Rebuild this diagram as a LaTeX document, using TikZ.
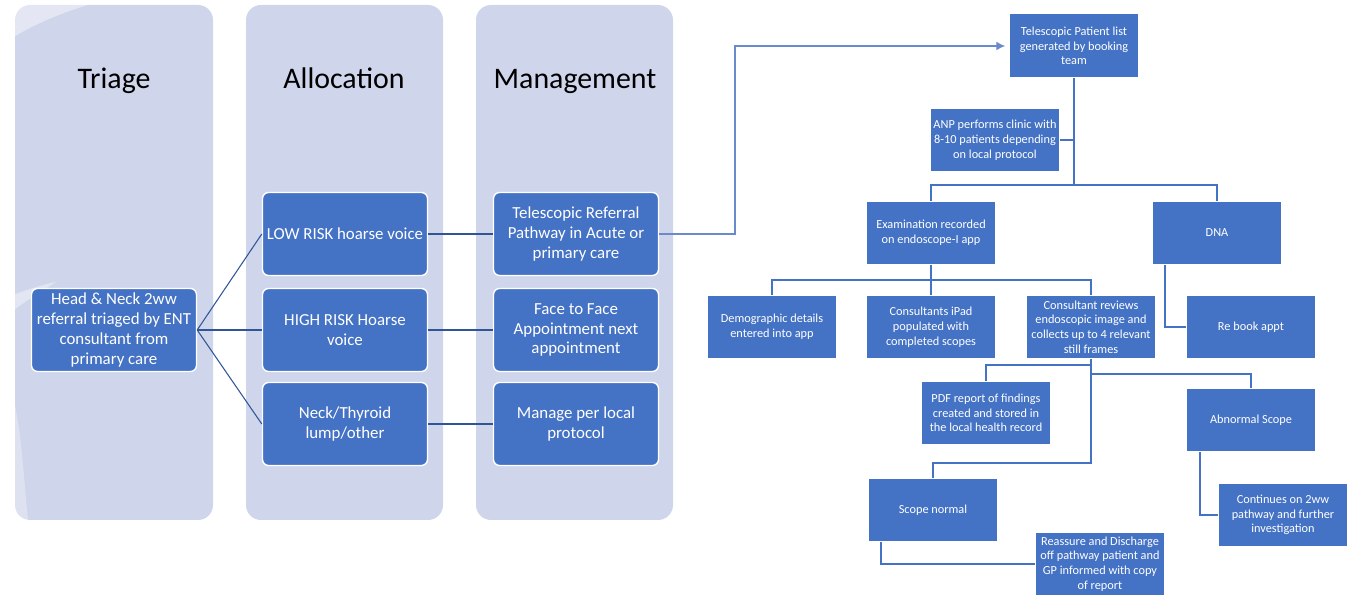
\documentclass[tikz,border=0pt]{standalone}
\usepackage{fontspec}
\setmainfont{Carlito}
\usetikzlibrary{calc,arrows.meta}
\definecolor{lane}{HTML}{CFD5EA}
\definecolor{boxblue}{HTML}{4472C4}
\definecolor{navy}{HTML}{2F5597}
\definecolor{lineblue}{HTML}{4472C4}
\definecolor{arrowblue}{HTML}{6A8BCB}
\begin{document}
\begin{tikzpicture}[x=0.02cm,y=-0.02cm,
  lanebox/.style={fill=lane,draw=none,rounded corners=0.3cm},
  lanetitle/.style={font=\fontsize{17}{20}\selectfont,text=black,anchor=base},
  lbox/.style={fill=boxblue,draw=white,line width=0.8pt,rounded corners=0.12cm,
    minimum width=3.3cm,minimum height=1.66cm,align=center,text=white,inner sep=1pt,
    font=\fontsize{9.6}{11.2}\selectfont},
  rbox/.style={fill=boxblue,draw=none,minimum width=2.58cm,minimum height=1.26cm,
    align=center,text=white,inner sep=1pt,font=\fontsize{7}{8.4}\selectfont},
  lconn/.style={draw=navy,line width=0.6pt},
  rconn/.style={draw=lineblue,line width=1.1pt},
  arr/.style={draw=arrowblue,line width=0.7pt,-{Latex[length=5pt,width=5pt]}}]
\useasboundingbox (0,0) rectangle (1357,597);
% lanes
\path[lanebox] (15,5) rectangle (213,520);
\path[lanebox] (246,5) rectangle (443,520);
\path[lanebox] (476,5) rectangle (673,520);
% faint watermark swoosh
\fill[white,opacity=0.45] (0,0) -- (105,0) .. controls (60,12) and (25,28) .. (0,46) -- cycle;
\fill[white,opacity=0.4] (0,300) .. controls (20,292) and (40,285) .. (56,282) .. controls (40,292) and (20,305) .. (0,320) -- cycle;
\fill[white,opacity=0.3] (15,405) .. controls (22,440) and (24,480) .. (28,520) -- (15,520) -- cycle;
\node[lanetitle] (t1) at (114,89) {Triage};
\node[lanetitle] (t2) at (344,89) {Allocation};
\node[lanetitle] (t3) at (575,89) {Management};
% left boxes
\node[lbox] (hn) at (114,330) {Head \& Neck 2ww\\referral triaged by ENT\\consultant from\\primary care};
\node[lbox] (low) at (345,234) {LOW RISK hoarse voice};
\node[lbox] (high) at (345,330) {HIGH RISK Hoarse\\voice};
\node[lbox] (neck) at (345,424) {Neck/Thyroid\\lump/other};
\node[lbox] (tref) at (576,234) {Telescopic Referral\\Pathway in Acute or\\primary care};
\node[lbox] (f2f) at (576,330) {Face to Face\\Appointment next\\appointment};
\node[lbox] (mplp) at (576,424) {Manage per local\\protocol};
\draw[lconn] (hn.east) -- (low.west);
\draw[lconn] (hn.east) -- (high.west);
\draw[lconn] (hn.east) -- (neck.west);
\draw[lconn] (low.east) -- (tref.west);
\draw[lconn] (high.east) -- (f2f.west);
\draw[lconn] (neck.east) -- (mplp.west);
% right flowchart
\node[rbox] (tpl) at (1074,46) {Telescopic Patient list\\generated by booking\\team};
\node[rbox] (anp) at (995,140) {ANP performs clinic with\\8-10 patients depending\\on local protocol};
\node[rbox] (exam) at (931,233) {Examination recorded\\on endoscope-I app};
\node[rbox] (dna) at (1217,233) {DNA};
\node[rbox] (demo) at (772,327) {Demographic details\\entered into app};
\node[rbox] (ipad) at (931,327) {Consultants iPad\\populated with\\completed scopes};
\node[rbox] (rev) at (1091,327) {Consultant reviews\\endoscopic image and\\collects up to 4 relevant\\still frames};
\node[rbox] (rebook) at (1251,327) {Re book appt};
\node[rbox] (pdf) at (986,413) {PDF report of findings\\created and stored in\\the local health record};
\node[rbox] (abn) at (1251,420) {Abnormal Scope};
\node[rbox] (sn) at (933,510) {Scope normal};
\node[rbox] (cont) at (1283,515) {Continues on 2ww\\pathway and further\\investigation};
\node[rbox] (reas) at (1100,564) {Reassure and Discharge\\off pathway patient and\\GP informed with copy\\of report};
% arrow from telescopic referral
\coordinate (turnx) at (735,100);
\draw[arr] (tref.east) -- (tref.east -| turnx) |- ($(tpl.west)+(-4,0)$);
% connectors
\coordinate (bus1) at (1074,185);
\coordinate (bus2) at (931,280);
\coordinate (r1) at (1091,365);
\coordinate (r2) at (1091,374);
\coordinate (r3) at (1091,463);
\draw[rconn] (tpl.south) -- (bus1);
\draw[rconn] (anp.east) -- (anp.east -| tpl.south);
\draw[rconn] (exam.north) |- (bus1) -| (dna.north);
\draw[rconn] (exam.south) -- (bus2);
\draw[rconn] (demo.north) |- (bus2) -| (rev.north);
\draw[rconn] (ipad.north) -- (bus2);
\draw[rconn] ($(dna.south)+(-52,0)$) |- (rebook.west);
\draw[rconn] (rev.south) -- (r3) -| (sn.north);
\draw[rconn] (r1) -| (pdf.north);
\draw[rconn] (r2) -| (abn.north);
\draw[rconn] ($(sn.south)+(-52,0)$) |- (reas.west);
\draw[rconn] ($(abn.south)+(-51,0)$) |- (cont.west);
\end{tikzpicture}
\end{document}
